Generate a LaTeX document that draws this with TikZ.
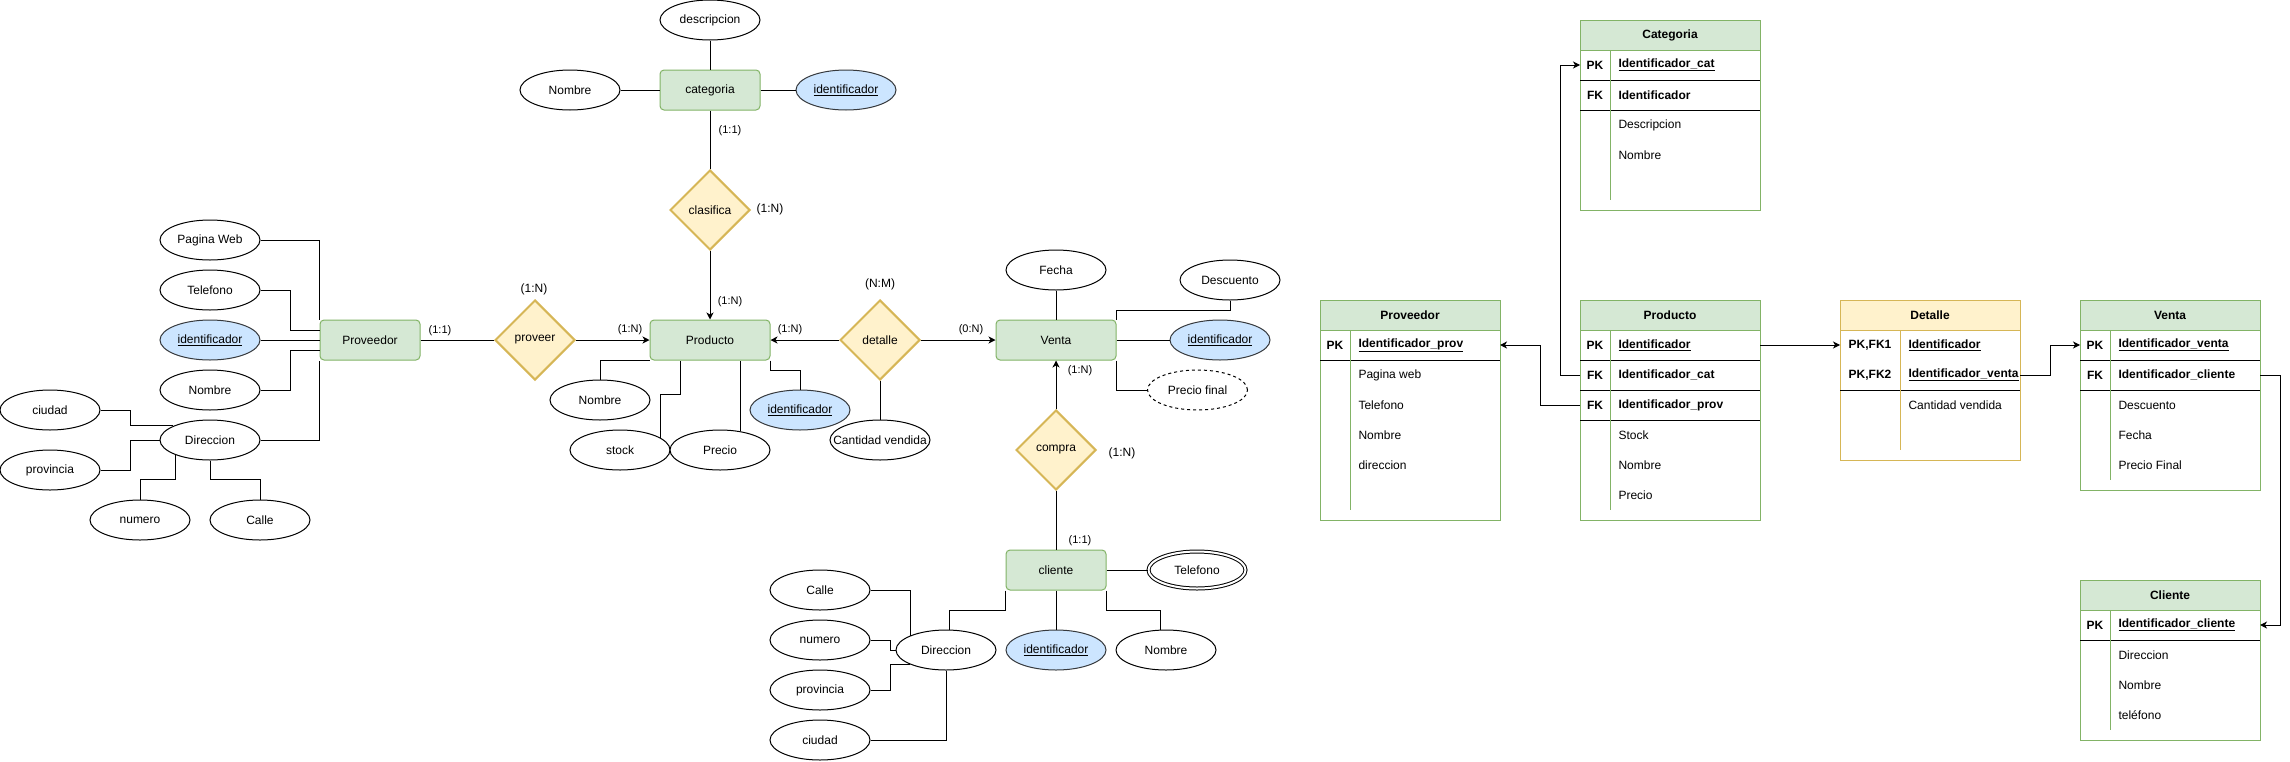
\documentclass[tikz,border=0pt]{standalone}
\usepackage{fontspec}
\setmainfont{Liberation Sans}
\usetikzlibrary{shapes.geometric,arrows.meta}
\definecolor{entfill}{HTML}{D5E8D4}
\definecolor{entdraw}{HTML}{82B366}
\definecolor{relfill}{HTML}{FFF2CC}
\definecolor{reldraw}{HTML}{D6B656}
\definecolor{keyfill}{HTML}{CCE5FF}
\definecolor{keydraw}{HTML}{36393D}
\newcommand\zw[1]{\makebox[0pt]{#1}}
\begin{document}
\begin{tikzpicture}[x=1pt,y=-1pt,line width=1pt,
  font=\fontsize{12}{14}\selectfont,
  ent/.style={rectangle,rounded corners=4pt,draw=entdraw,fill=entfill,minimum width=100pt,minimum height=40pt,inner sep=0pt},
  ell/.style={ellipse,draw=black,fill=white,minimum width=100pt,minimum height=40pt,inner sep=0pt},
  kell/.style={ell,draw=keydraw,fill=keyfill},
  rel/.style={diamond,aspect=1,draw=reldraw,fill=relfill,line width=2pt,minimum width=80pt,minimum height=80pt,inner sep=0pt},
  lab/.style={inner sep=0pt,font=\fontsize{11}{13}\selectfont},
  labb/.style={inner sep=0pt,font=\fontsize{12}{14}\selectfont},
  arr/.style={-{Stealth[length=7pt,width=7pt,inset=2pt]}},
  tbox/.style={rectangle,draw=entdraw,fill=white,minimum width=180pt,inner sep=0pt,outer sep=0pt},
  thead/.style={rectangle,draw=entdraw,fill=entfill,minimum width=180pt,minimum height=30pt,inner sep=0pt,outer sep=0pt,font=\fontsize{12}{14}\selectfont\bfseries},
  trow/.style={rectangle,minimum width=180pt,minimum height=30pt,inner sep=0pt,outer sep=0pt},
  ktext/.style={inner sep=0pt,font=\fontsize{12}{14}\selectfont\bfseries},
  ftext/.style={anchor=west,inner sep=0pt}
]
\useasboundingbox[fill=white] (0,0) rectangle (2290,761);

% ---------------- Proveedor (ER) ----------------
\node[ent] (pv) at (370,340) {Proveedor};
\node[ell] (pag) at (210,240) {\zw{Pagina Web}};
\node[ell] (telp) at (210,290) {\zw{Telefono}};
\node[kell] (idp) at (210,340) {\zw{\underline{identificador}}};
\node[ell] (nomp) at (210,390) {\zw{Nombre}};
\node[ell] (dirp) at (210,440) {\zw{Direccion}};
\node[ell] (ciup) at (50,410) {\zw{ciudad}};
\node[ell] (provp) at (50,470) {\zw{provincia}};
\node[ell] (nump) at (140,520) {\zw{numero}};
\node[ell] (callp) at (260,520) {\zw{Calle}};
\node[rel] (prov) at (535,340) {\zw{proveer}};

% ---------------- Categoria (ER) ----------------
\node[ent] (cat) at (710,90) {categoria};
\node[ell] (descat) at (710,20) {\zw{descripcion}};
\node[ell] (nomcat) at (570,90) {\zw{Nombre}};
\node[kell] (idcat) at (846,90) {\zw{\underline{identificador}}};
\node[rel] (clas) at (710,210) {\zw{clasifica}};

% ---------------- Producto (ER) ----------------
\node[ent,minimum width=120pt] (pr) at (710,340) {Producto};
\node[ell] (nompr) at (600,400) {\zw{Nombre}};
\node[ell] (stock) at (620,450) {\zw{stock}};
\node[ell] (precio) at (720,450) {\zw{Precio}};
\node[kell] (idpr) at (800,410) {\zw{\underline{identificador}}};

% ---------------- Detalle / Venta (ER) ----------------
\node[rel] (det) at (880,340) {\zw{detalle}};
\node[ell] (cant) at (880,440) {\zw{Cantidad vendida}};
\node[ent,minimum width=120pt] (ve) at (1056,340) {Venta};
\node[ell] (fecha) at (1056,270) {\zw{Fecha}};
\node[ell] (descu) at (1230,280) {\zw{Descuento}};
\node[kell] (idve) at (1220,340) {\zw{\underline{identificador}}};
\node[ell,dash pattern=on 3pt off 3pt] (pfin) at (1197.5,390) {\zw{Precio final}};
\node[rel] (comp) at (1056,450) {\zw{compra}};

% ---------------- Cliente (ER) ----------------
\node[ent] (cl) at (1056,570) {cliente};
\node[ell,double,double distance=2pt,minimum width=97pt,minimum height=37pt] (telc) at (1197,570) {\zw{Telefono}};
\node[ell] (dirc) at (946,650) {\zw{Direccion}};
\node[kell] (idc) at (1056,650) {\zw{\underline{identificador}}};
\node[ell] (nomc) at (1166,650) {\zw{Nombre}};
\node[ell] (callc) at (820,590) {\zw{Calle}};
\node[ell] (numc) at (820,640) {\zw{numero}};
\node[ell] (provc) at (820,690) {\zw{provincia}};
\node[ell] (ciuc) at (820,740) {\zw{ciudad}};

% ---------------- cardinality labels ----------------
\node[lab] (l1) at (440,331) {(1:1)};
\node[labb] (l2) at (534,289) {(1:N)};
\node[lab] (l3) at (630,330) {(1:N)};
\node[lab] (l4) at (730,131) {(1:1)};
\node[labb] (l5) at (770,209) {(1:N)};
\node[lab] (l6) at (730,302) {(1:N)};
\node[lab] (l7) at (790,330) {(1:N)};
\node[labb] (l8) at (880,284) {(N:M)};
\node[lab] (l9) at (971,330) {(0:N)};
\node[lab] (l10) at (1080,371) {(1:N)};
\node[labb] (l11) at (1122,453) {(1:N)};
\node[lab] (l12) at (1080,541) {(1:1)};

% ---------------- ER connectors ----------------
\draw (pag.east) -| (pv.north west);
\draw (telp.east) -- ++(30,0) |- ([yshift=10pt]pv.west);
\draw (idp.east) -- (pv.west);
\draw (nomp.east) -- ++(30,0) |- ([yshift=-10pt]pv.west);
\draw (dirp.east) -| (pv.south west);
\draw (ciup.east) -- ++(30,0) |- (dirp.159);
\draw (provp.east) -- ++(30,0) |- (dirp.west);
\draw (nump.north) -- ++(0,-20) -| (dirp.203);
\draw (callp.north) -- ++(0,-20) -| (dirp.south);
\draw (pv.east) -- (prov.west);
\draw[arr] (prov.east) -- (pr.west);

\draw (descat.south) -- (cat.north);
\draw (nomcat.east) -- (cat.west);
\draw (cat.east) -- (idcat.west);
\draw (cat.south) -- (clas.north);
\draw[arr] (clas.south) -- (pr.north);

\draw (nompr.north) |- (pr.south west);
\draw (stock.17) -- ++(0,-43) -| ([xshift=-30pt]pr.south);
\draw (precio.42) -- (precio.42 |- pr.south);
\draw (pr.south east) -- ++(0,10) -| (idpr.north);

\draw[arr] (det.west) -- (pr.east);
\draw[arr] (det.east) -- (ve.west);
\draw (det.south) -- (cant.north);
\draw (fecha.south) -- (ve.north);
\draw (descu.south) -- ++(0,10) -| (ve.north east);
\draw (ve.east) -- (idve.west);
\draw (ve.south east) |- (pfin.west);
\draw[arr] (comp.north) -- (ve.south);
\draw (comp.south) -- (cl.north);

\draw (cl.east) -- (telc.west);
\draw (cl.south) -- (idc.north);
\draw (cl.south west) -- ++(0,20) -| (dirc.79);
\draw (cl.south east) -- ++(0,20) -| (nomc.106);
\draw (callc.east) -| (dirc.158);
\draw (numc.east) -- ++(20,0) |- (dirc.west);
\draw (provc.east) -- ++(20,0) |- (dirc.202);
\draw (ciuc.east) -| (dirc.south);

% ================= RELATIONAL TABLES =================
% ---- Categoria ----
\node[tbox,minimum height=190pt] (catT) at (1670,115) {};
\node[thead] (catH) at (1670,35) {Categoria};
\node[trow] (catR1) at (1670,65) {};
\node[trow] (catR2) at (1670,95) {};
\node[ktext] (catK1) at (1595,65) {PK};
\node[ftext] (catF1) at (1618,65) {\textbf{\underline{Identificador\_cat}}};
\node[ktext] (catK2) at (1595,95) {FK};
\node[ftext] (catF2) at (1618,95) {\textbf{Identificador}};
\node[ftext] (catF3) at (1618,125) {Descripcion};
\node[ftext] (catF4) at (1618,155) {Nombre};
\draw (catR1.south west) -- (catR1.south east);
\draw (catR2.south west) -- (catR2.south east);
\draw[entdraw] ([xshift=30pt]catH.south west) -- ++(0,150);

% ---- Proveedor ----
\node[tbox,minimum height=220pt] (pvT) at (1410,410) {};
\node[thead] (pvH) at (1410,315) {Proveedor};
\node[trow] (pvR1) at (1410,345) {};
\node[ktext] (pvK1) at (1335,345) {PK};
\node[ftext] (pvF1) at (1358,345) {\textbf{\underline{Identificador\_prov}}};
\node[ftext] (pvF2) at (1358,375) {Pagina web};
\node[ftext] (pvF3) at (1358,405) {Telefono};
\node[ftext] (pvF4) at (1358,435) {Nombre};
\node[ftext] (pvF5) at (1358,465) {direccion};
\draw (pvR1.south west) -- (pvR1.south east);
\draw[entdraw] ([xshift=30pt]pvH.south west) -- ++(0,180);

% ---- Producto ----
\node[tbox,minimum height=220pt] (prT) at (1670,410) {};
\node[thead] (prH) at (1670,315) {Producto};
\node[trow] (prR1) at (1670,345) {};
\node[trow] (prR2) at (1670,375) {};
\node[trow] (prR3) at (1670,405) {};
\node[ktext] (prK1) at (1595,345) {PK};
\node[ftext] (prF1) at (1618,345) {\textbf{\underline{Identificador}}};
\node[ktext] (prK2) at (1595,375) {FK};
\node[ftext] (prF2) at (1618,375) {\textbf{Identificador\_cat}};
\node[ktext] (prK3) at (1595,405) {FK};
\node[ftext] (prF3) at (1618,405) {\textbf{Identificador\_prov}};
\node[ftext] (prF4) at (1618,435) {Stock};
\node[ftext] (prF5) at (1618,465) {Nombre};
\node[ftext] (prF6) at (1618,495) {Precio};
\draw (prR1.south west) -- (prR1.south east);
\draw (prR2.south west) -- (prR2.south east);
\draw (prR3.south west) -- (prR3.south east);
\draw[entdraw] ([xshift=30pt]prH.south west) -- ++(0,180);

% ---- Detalle ----
\node[tbox,draw=reldraw,minimum height=160pt] (dtT) at (1930,380) {};
\node[thead,draw=reldraw,fill=relfill] (dtH) at (1930,315) {Detalle};
\node[trow] (dtR1) at (1930,345) {};
\node[trow] (dtR2) at (1930,375) {};
\node[ktext] (dtK1) at (1870,345) {PK,FK1};
\node[ftext] (dtF1) at (1908,345) {\textbf{\underline{Identificador}}};
\node[ktext] (dtK2) at (1870,375) {PK,FK2};
\node[ftext] (dtF2) at (1908,375) {\textbf{\underline{Identificador\_venta}}};
\node[ftext] (dtF3) at (1908,405) {Cantidad vendida};
\draw (dtR2.south west) -- (dtR2.south east);
\draw[reldraw] ([xshift=60pt]dtH.south west) -- ++(0,120);

% ---- Venta ----
\node[tbox,minimum height=190pt] (vtT) at (2170,395) {};
\node[thead] (vtH) at (2170,315) {Venta};
\node[trow] (vtR1) at (2170,345) {};
\node[trow] (vtR2) at (2170,375) {};
\node[ktext] (vtK1) at (2095,345) {PK};
\node[ftext] (vtF1) at (2118,345) {\textbf{\underline{Identificador\_venta}}};
\node[ktext] (vtK2) at (2095,375) {FK};
\node[ftext] (vtF2) at (2118,375) {\textbf{Identificador\_cliente}};
\node[ftext] (vtF3) at (2118,405) {Descuento};
\node[ftext] (vtF4) at (2118,435) {Fecha};
\node[ftext] (vtF5) at (2118,465) {Precio Final};
\draw (vtR1.south west) -- (vtR1.south east);
\draw (vtR2.south west) -- (vtR2.south east);
\draw[entdraw] ([xshift=30pt]vtH.south west) -- ++(0,150);

% ---- Cliente ----
\node[tbox,minimum height=160pt] (ctT) at (2170,660) {};
\node[thead] (ctH) at (2170,595) {Cliente};
\node[trow] (ctR1) at (2170,625) {};
\node[ktext] (ctK1) at (2095,625) {PK};
\node[ftext] (ctF1) at (2118,625) {\textbf{\underline{Identificador\_cliente}}};
\node[ftext] (ctF2) at (2118,655) {Direccion};
\node[ftext] (ctF3) at (2118,685) {Nombre};
\node[ftext] (ctF4) at (2118,715) {teléfono};
\draw (ctR1.south west) -- (ctR1.south east);
\draw[entdraw] ([xshift=30pt]ctH.south west) -- ++(0,120);

% ---- table connectors ----
\draw[arr] (prR2.west) -- ++(-20,0) |- (catR1.west);
\draw[arr] (prR3.west) -- ++(-40,0) |- (pvR1.east);
\draw[arr] (prR1.east) -- (dtR1.west);
\draw[arr] (dtR2.east) -- ++(30,0) |- (vtR1.west);
\draw[arr] (vtR2.east) -- ++(20,0) |- (ctR1.east);
\end{tikzpicture}
\end{document}
